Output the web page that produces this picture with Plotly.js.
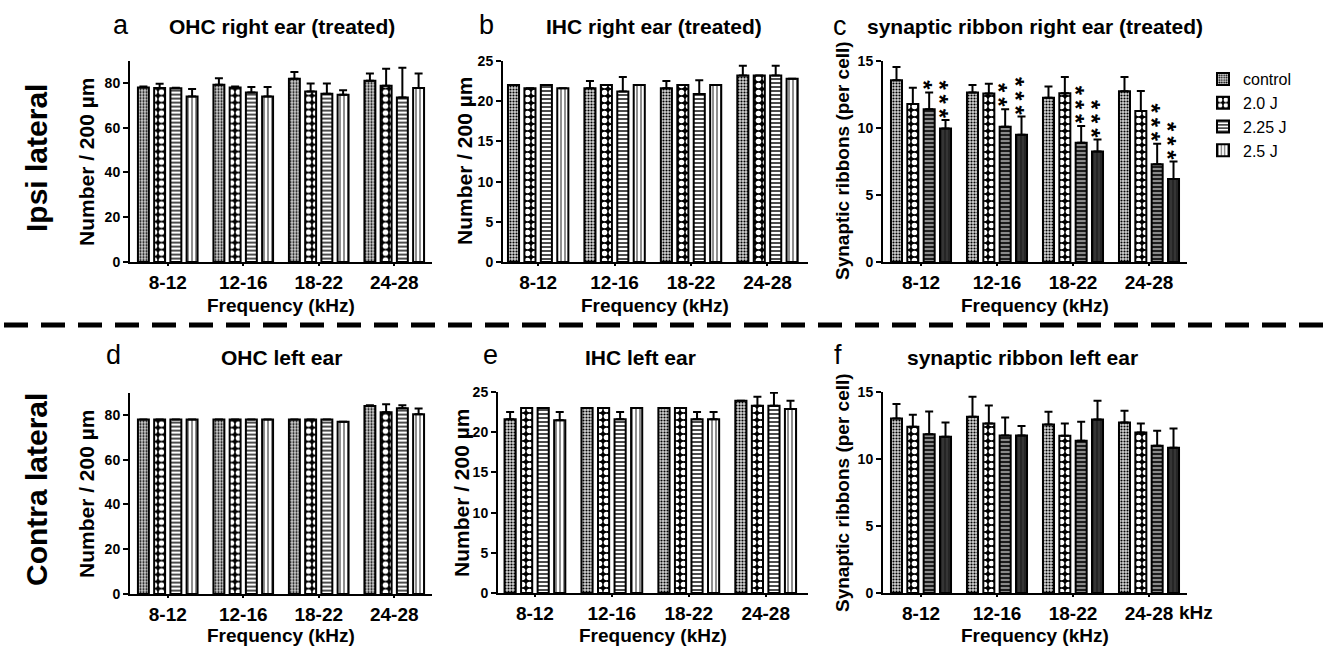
<!DOCTYPE html>
<html>
<head>
<meta charset="utf-8">
<script src="https://cdn.plot.ly/plotly-3.0.1.min.js"></script>
<style>html,body{margin:0;padding:0;background:#fff;}#chart{width:1323px;height:650px;}</style>
</head>
<body>
<div id="chart"></div>
<script>
// ---------- data ----------
const categories = ['8-12', '12-16', '18-22', '24-28'];
const seriesNames = ['control', '2.0 J', '2.25 J', '2.5 J'];

// rows: control, 2.0 J, 2.25 J, 2.5 J ; columns: frequency bands
const ohcRightMean = [[78.0, 79.2, 81.9, 81.0], [77.7, 78.0, 76.2, 78.8], [77.6, 75.8, 75.2, 73.5], [74.0, 74.0, 74.7, 77.7]];
const ohcRightErr  = [[0.4, 2.9, 3.0, 3.2], [2.0, 0.4, 3.6, 7.6], [0.3, 2.4, 4.6, 13.3], [3.3, 4.2, 2.1, 6.5]];
const ihcRightMean = [[22.0, 21.6, 21.6, 23.2], [21.6, 22.0, 22.0, 23.2], [22.0, 21.2, 20.9, 23.2], [21.6, 22.0, 22.0, 22.8]];
const ihcRightErr  = [[0, 0.9, 0.9, 1.2], [0, 0, 0, 0], [0, 1.8, 1.7, 1.2], [0, 0, 0, 0]];
const ribRightMean = [[13.57, 12.65, 12.25, 12.75], [11.8, 12.58, 12.6, 11.26], [11.4, 10.1, 8.9, 7.3], [9.97, 9.5, 8.24, 6.2]];
const ribRightErr  = [[0.99, 0.55, 0.85, 1.05], [1.2, 0.72, 1.2, 1.5], [1.25, 1.3, 1.25, 1.53], [0.63, 1.35, 0.91, 1.3]];
const ribRightStars = [[0, 0, 0, 0], [0, 0, 0, 0], [1, 2, 3, 3], [3, 3, 3, 3]];
const ohcLeftMean = [[78.0, 78.0, 78.0, 84.0], [78.0, 78.0, 78.0, 81.2], [78.0, 78.0, 78.0, 83.0], [78.0, 78.0, 77.0, 80.3]];
const ohcLeftErr  = [[0, 0, 0, 0.4], [0, 0, 0, 3.6], [0, 0, 0, 1.3], [0, 0, 0, 2.6]];
const ihcLeftMean = [[21.6, 23.0, 23.0, 23.9], [23.0, 23.0, 23.0, 23.3], [23.0, 21.6, 21.6, 23.3], [21.5, 23.0, 21.6, 22.9]];
const ihcLeftErr  = [[0.9, 0, 0, 0], [0, 0, 0, 1.1], [0, 0.9, 0.9, 1.6], [1.0, 0, 0.9, 1.0]];
const ribLeftMean = [[13.03, 13.15, 12.58, 12.73], [12.4, 12.65, 11.74, 11.98], [11.84, 11.76, 11.36, 10.99], [11.66, 11.76, 12.95, 10.84]];
const ribLeftErr  = [[1.07, 1.49, 0.94, 0.87], [0.9, 1.35, 0.91, 0.67], [1.71, 1.34, 1.42, 1.11], [1.07, 0.7, 1.39, 1.44]];

const ohcTicks = [0, 20, 40, 60, 80];
const ihcTicks = [0, 5, 10, 15, 20, 25];
const ribTicks = [0, 5, 10, 15];

// ---------- styling ----------
const FONT = 'Liberation Sans, Arial, Helvetica, sans-serif';
const W = 1323, H = 650;
const px = v => v / W;
const py = v => 1 - v / H;
const BW = 0.145, STRIDE = 0.215, OFF0 = -(3 * STRIDE + BW) / 2;

const lightStyles = [
  {color: '#cfcfcf', pattern: {shape: '.', fgcolor: 'black', bgcolor: '#d4d4d4', size: 3, solidity: 0.4}},
  {color: 'black', pattern: {shape: '.', fgcolor: 'white', bgcolor: 'black', size: 7, solidity: 0.5}},
  {color: 'white', pattern: {shape: '-', fgcolor: 'black', bgcolor: 'white', size: 4, solidity: 0.35}},
  {color: 'white', pattern: {shape: '|', fgcolor: '#444', bgcolor: 'white', size: 4, solidity: 0.3}}
];
const darkStyles = [
  lightStyles[0], lightStyles[1],
  {color: '#888', pattern: {shape: '-', fgcolor: 'black', bgcolor: '#8a8a8a', size: 4, solidity: 0.4}},
  {color: '#333', pattern: {shape: '|', fgcolor: '#1a1a1a', bgcolor: '#353535', size: 4, solidity: 0.3}}
];

const panels = [
  {mean: ohcRightMean, err: ohcRightErr, ax: '', dom: [130, 432], ydom: [60.6, 262], range: [0, 90], ticks: ohcTicks, xr: [-0.5, 3.5], styles: lightStyles, legend: true},
  {mean: ihcRightMean, err: ihcRightErr, ax: '2', dom: [503, 808], ydom: [61, 262], range: [0, 25], ticks: ihcTicks, xr: [-0.46, 3.53], styles: lightStyles},
  {mean: ribRightMean, err: ribRightErr, ax: '3', dom: [883, 1187], ydom: [61, 262], range: [0, 15], ticks: ribTicks, xr: [-0.5, 3.5], styles: darkStyles},
  {mean: ohcLeftMean, err: ohcLeftErr, ax: '4', dom: [130, 432], ydom: [392.6, 594], range: [0, 90], ticks: ohcTicks, xr: [-0.5, 3.5], styles: lightStyles},
  {mean: ihcLeftMean, err: ihcLeftErr, ax: '5', dom: [498, 808], ydom: [392, 593], range: [0, 25], ticks: ihcTicks, xr: [-0.48, 3.55], styles: lightStyles},
  {mean: ribLeftMean, err: ribLeftErr, ax: '6', dom: [883, 1187], ydom: [392, 593], range: [0, 15], ticks: ribTicks, xr: [-0.5, 3.5], styles: darkStyles}
];

const traces = [];
const layout = {
  width: W, height: H,
  margin: {l: 0, r: 0, t: 0, b: 0},
  paper_bgcolor: 'white', plot_bgcolor: 'rgba(0,0,0,0)',
  barmode: 'overlay',
  showlegend: true,
  legend: {x: px(1203), y: py(62), xanchor: 'left', yanchor: 'top', font: {family: FONT, size: 16, color: 'black'},
           bgcolor: 'rgba(0,0,0,0)', itemwidth: 30, tracegroupgap: 0},
  font: {family: FONT, color: 'black'},
  annotations: [],
  shapes: []
};

panels.forEach((p, pi) => {
  for (let k = 0; k < 4; k++) {
    const st = p.styles[k];
    traces.push({
      type: 'bar', x: categories, y: p.mean[k],
      xaxis: 'x' + p.ax, yaxis: 'y' + p.ax,
      name: seriesNames[k], showlegend: !!p.legend,
      width: BW, offset: OFF0 + k * STRIDE,
      marker: {color: st.color, pattern: st.pattern, line: {color: 'black', width: 2}},
      error_y: {type: 'data', symmetric: false, array: p.err[k], arrayminus: p.err[k].map(() => 0),
                color: 'black', thickness: 2, width: 4},
      hoverinfo: 'x+y+name'
    });
  }
  layout['xaxis' + p.ax] = {
    domain: [px(p.dom[0]), px(p.dom[1])], anchor: 'y' + p.ax, type: 'category',
    range: p.xr, showline: true, linecolor: 'black', linewidth: 2,
    ticks: 'outside', ticklen: 2, tickwidth: 2, tickcolor: 'black',
    tickfont: {family: FONT, size: 19, color: 'black', weight: 'bold'},
    showgrid: false, zeroline: false, fixedrange: true
  };
  layout['yaxis' + p.ax] = {
    domain: [py(p.ydom[1]), py(p.ydom[0])], anchor: 'x' + p.ax,
    range: p.range, tickvals: p.ticks, ticktext: p.ticks.map(String),
    showline: true, linecolor: 'black', linewidth: 2,
    ticks: 'outside', ticklen: 5, tickwidth: 2, tickcolor: 'black',
    tickfont: {family: FONT, size: 14, color: 'black', weight: 'bold'},
    showgrid: false, zeroline: false, fixedrange: true
  };
});

// significance stars on the synaptic ribbon right ear panel (one vertical stack per bar)
ribRightStars.forEach((row, k) => {
  row.forEach((n, g) => {
    if (!n) return;
    layout.annotations.push({
      xref: 'x3', yref: 'y3', x: g + OFF0 + k * STRIDE + BW / 2, y: ribRightMean[k][g] + ribRightErr[k][g],
      text: Array(n).fill('*').join('\u2009'), showarrow: false, textangle: 90,
      xanchor: 'center', yanchor: 'bottom', xshift: -6, yshift: 0,
      font: {family: FONT, size: 24, color: 'black', weight: 'bold'}
    });
  });
});

function ann(text, x, y, size, bold, extra) {
  layout.annotations.push(Object.assign({
    xref: 'paper', yref: 'paper', x: px(x), y: py(y), text: text, showarrow: false,
    xanchor: 'center', yanchor: 'middle',
    font: {family: FONT, size: size, color: 'black', weight: bold ? 'bold' : 'normal'}
  }, extra || {}));
}

// panel letters and titles
ann('a', 121, 25, 27, false); ann('OHC right ear (treated)', 282, 27, 21, true);
ann('b', 486, 25, 27, false); ann('IHC right ear (treated)', 654, 27, 21, true);
ann('c', 840, 26, 27, false); ann('synaptic ribbon right ear (treated)', 1035, 27, 21, true);
ann('d', 113, 355, 27, false); ann('OHC left ear', 281, 357, 21, true);
ann('e', 490, 355, 27, false); ann('IHC left ear', 640, 357, 21, true);
ann('f', 838, 355, 27, false); ann('synaptic ribbon left ear', 1022, 357, 21, true);

// axis titles
[[281, 305], [655, 305], [1035, 305], [281, 635], [653, 635], [1035, 635]].forEach(c => ann('Frequency (kHz)', c[0], c[1], 19, true));
ann('Number / 200 µm', 87, 161, 21, true, {textangle: -90});
ann('Number / 200 µm', 465, 161, 21, true, {textangle: -90});
ann('Synaptic ribbons (per cell)', 843, 161, 19, true, {textangle: -90});
ann('Number / 200 µm', 87, 493, 21, true, {textangle: -90});
ann('Number / 200 µm', 462, 493, 21, true, {textangle: -90});
ann('Synaptic ribbons (per cell)', 843, 493, 19, true, {textangle: -90});

// unit after the last band of panel f
layout.annotations.push({xref: 'x6', yref: 'paper', x: 3, y: py(612), xshift: 28, text: 'kHz', showarrow: false,
  xanchor: 'left', yanchor: 'middle', font: {family: FONT, size: 19, color: 'black', weight: 'bold'}});

// row labels
ann('Ipsi lateral', 36, 158, 30, true, {textangle: -90});
ann('Contra lateral', 36, 490, 30, true, {textangle: -90});

// dashed separator
layout.shapes.push({type: 'line', xref: 'paper', yref: 'paper', x0: px(4), x1: 1, y0: py(325), y1: py(325),
  line: {color: 'black', width: 5, dash: '24px,13px'}});

Plotly.newPlot('chart', traces, layout, {displayModeBar: false, staticPlot: true});
</script>
</body>
</html>
